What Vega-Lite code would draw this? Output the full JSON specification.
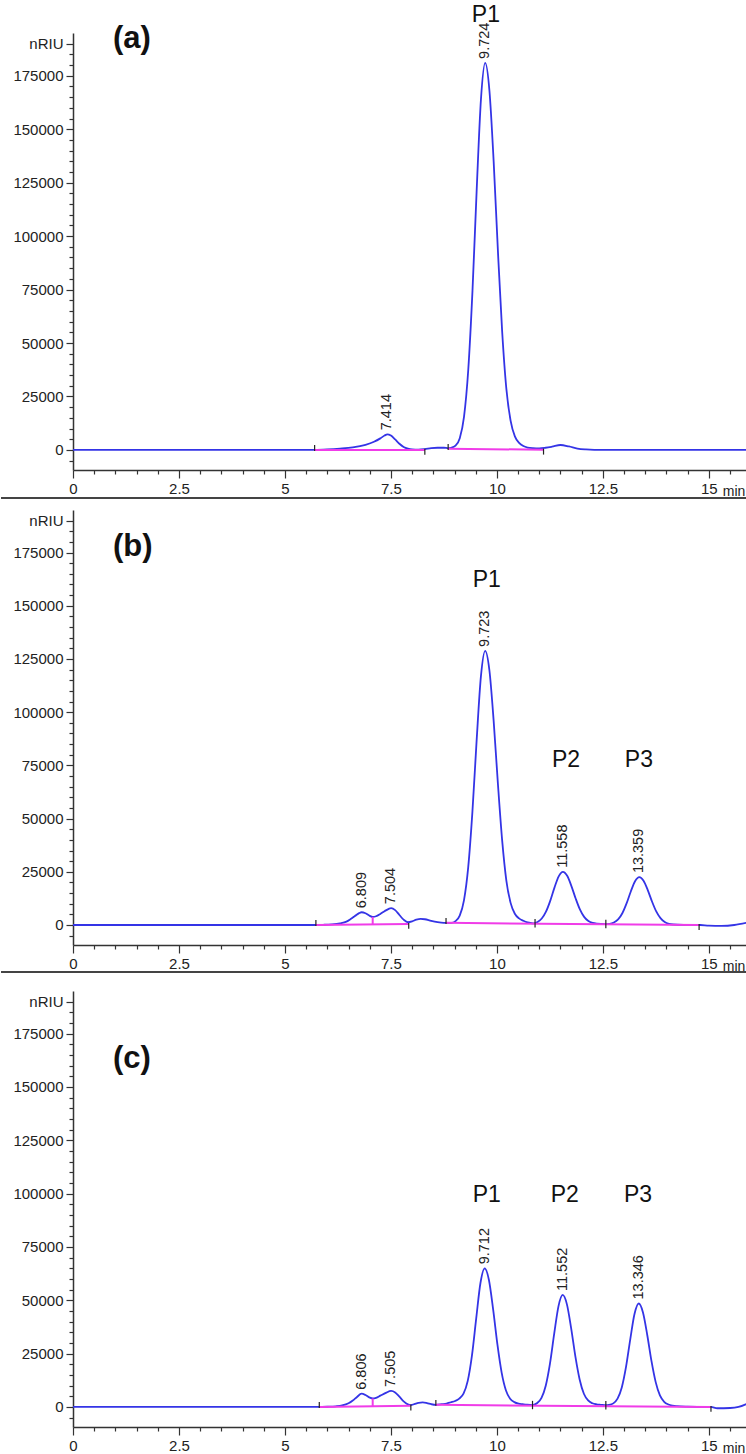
{
  "$schema": "https://vega.github.io/schema/vega-lite/v6.json",
  "background": "white",
  "padding": {"left": 0, "right": 0, "top": 4, "bottom": 0},
  "spacing": -3,
  "config": {
    "view": {"stroke": null},
    "axis": {
      "grid": false,
      "domainColor": "#333333",
      "domainWidth": 1.5,
      "tickColor": "#333333",
      "tickWidth": 1.2,
      "labelColor": "#222222",
      "labelFont": "Liberation Sans",
      "labelFontSize": 15
    }
  },
  "datasets": {
    "trace": [
      {"panel": "a", "t": 0, "v": 0}, {"panel": "a", "t": 1, "v": 0}, {"panel": "a", "t": 2, "v": 0}, {"panel": "a", "t": 3, "v": 0},
      {"panel": "a", "t": 4, "v": 0}, {"panel": "a", "t": 5, "v": 0}, {"panel": "a", "t": 5.7, "v": 0}, {"panel": "a", "t": 6.0, "v": 200},
      {"panel": "a", "t": 6.3, "v": 600}, {"panel": "a", "t": 6.6, "v": 1200}, {"panel": "a", "t": 6.9, "v": 2400}, {"panel": "a", "t": 7.1, "v": 3800},
      {"panel": "a", "t": 7.25, "v": 5400}, {"panel": "a", "t": 7.35, "v": 6700}, {"panel": "a", "t": 7.414, "v": 7300}, {"panel": "a", "t": 7.5, "v": 6700},
      {"panel": "a", "t": 7.6, "v": 4900}, {"panel": "a", "t": 7.7, "v": 2900}, {"panel": "a", "t": 7.8, "v": 1400}, {"panel": "a", "t": 7.9, "v": 600},
      {"panel": "a", "t": 8.0, "v": 250}, {"panel": "a", "t": 8.15, "v": 150}, {"panel": "a", "t": 8.3, "v": 400}, {"panel": "a", "t": 8.45, "v": 850},
      {"panel": "a", "t": 8.6, "v": 1000}, {"panel": "a", "t": 8.75, "v": 1000}, {"panel": "a", "t": 8.85, "v": 800}, {"panel": "a", "t": 8.924, "v": 1000},
      {"panel": "a", "t": 9.024, "v": 2000}, {"panel": "a", "t": 9.124, "v": 5500}, {"panel": "a", "t": 9.224, "v": 15500}, {"panel": "a", "t": 9.324, "v": 37400},
      {"panel": "a", "t": 9.424, "v": 74400}, {"panel": "a", "t": 9.524, "v": 122000}, {"panel": "a", "t": 9.624, "v": 164000}, {"panel": "a", "t": 9.724, "v": 181000},
      {"panel": "a", "t": 9.824, "v": 168000}, {"panel": "a", "t": 9.924, "v": 134700}, {"panel": "a", "t": 10.024, "v": 93000}, {"panel": "a", "t": 10.124, "v": 55400},
      {"panel": "a", "t": 10.224, "v": 28400}, {"panel": "a", "t": 10.324, "v": 13600}, {"panel": "a", "t": 10.424, "v": 6300}, {"panel": "a", "t": 10.524, "v": 3300},
      {"panel": "a", "t": 10.624, "v": 1800}, {"panel": "a", "t": 10.724, "v": 1100}, {"panel": "a", "t": 10.85, "v": 800}, {"panel": "a", "t": 11.0, "v": 700},
      {"panel": "a", "t": 11.15, "v": 1000}, {"panel": "a", "t": 11.3, "v": 1500}, {"panel": "a", "t": 11.5, "v": 2300}, {"panel": "a", "t": 11.7, "v": 1600},
      {"panel": "a", "t": 11.9, "v": 600}, {"panel": "a", "t": 12.1, "v": 200}, {"panel": "a", "t": 12.3, "v": 50}, {"panel": "a", "t": 13, "v": 0},
      {"panel": "a", "t": 14, "v": 0}, {"panel": "a", "t": 15, "v": 0}, {"panel": "a", "t": 15.9, "v": 0},

      {"panel": "b", "t": 0, "v": 0}, {"panel": "b", "t": 1, "v": 0}, {"panel": "b", "t": 2, "v": 0}, {"panel": "b", "t": 3, "v": 0},
      {"panel": "b", "t": 4, "v": 0}, {"panel": "b", "t": 5, "v": 0}, {"panel": "b", "t": 5.7, "v": 0}, {"panel": "b", "t": 5.9, "v": 100},
      {"panel": "b", "t": 6.1, "v": 300}, {"panel": "b", "t": 6.3, "v": 800}, {"panel": "b", "t": 6.45, "v": 1600}, {"panel": "b", "t": 6.55, "v": 2800},
      {"panel": "b", "t": 6.65, "v": 4200}, {"panel": "b", "t": 6.75, "v": 5600}, {"panel": "b", "t": 6.809, "v": 6000}, {"panel": "b", "t": 6.9, "v": 5500},
      {"panel": "b", "t": 7.0, "v": 4300}, {"panel": "b", "t": 7.07, "v": 3800}, {"panel": "b", "t": 7.15, "v": 4100}, {"panel": "b", "t": 7.25, "v": 5200},
      {"panel": "b", "t": 7.35, "v": 6500}, {"panel": "b", "t": 7.45, "v": 7600}, {"panel": "b", "t": 7.504, "v": 7900}, {"panel": "b", "t": 7.6, "v": 7000},
      {"panel": "b", "t": 7.7, "v": 4700}, {"panel": "b", "t": 7.8, "v": 2500}, {"panel": "b", "t": 7.9, "v": 1300}, {"panel": "b", "t": 8.0, "v": 1700},
      {"panel": "b", "t": 8.1, "v": 2500}, {"panel": "b", "t": 8.2, "v": 2900}, {"panel": "b", "t": 8.3, "v": 2700}, {"panel": "b", "t": 8.45, "v": 1900},
      {"panel": "b", "t": 8.6, "v": 1300}, {"panel": "b", "t": 8.75, "v": 1000}, {"panel": "b", "t": 8.923, "v": 1000}, {"panel": "b", "t": 9.023, "v": 1800},
      {"panel": "b", "t": 9.123, "v": 4400}, {"panel": "b", "t": 9.223, "v": 11600}, {"panel": "b", "t": 9.323, "v": 27100}, {"panel": "b", "t": 9.423, "v": 53400},
      {"panel": "b", "t": 9.523, "v": 87100}, {"panel": "b", "t": 9.623, "v": 116800}, {"panel": "b", "t": 9.723, "v": 128800}, {"panel": "b", "t": 9.823, "v": 119700},
      {"panel": "b", "t": 9.923, "v": 96000}, {"panel": "b", "t": 10.023, "v": 66600}, {"panel": "b", "t": 10.123, "v": 40000}, {"panel": "b", "t": 10.223, "v": 20900},
      {"panel": "b", "t": 10.323, "v": 10400}, {"panel": "b", "t": 10.423, "v": 5300}, {"panel": "b", "t": 10.523, "v": 3100}, {"panel": "b", "t": 10.623, "v": 2000},
      {"panel": "b", "t": 10.723, "v": 1200}, {"panel": "b", "t": 10.858, "v": 800}, {"panel": "b", "t": 10.958, "v": 1440}, {"panel": "b", "t": 11.058, "v": 3050},
      {"panel": "b", "t": 11.158, "v": 6260}, {"panel": "b", "t": 11.258, "v": 11350}, {"panel": "b", "t": 11.358, "v": 17550}, {"panel": "b", "t": 11.458, "v": 22870},
      {"panel": "b", "t": 11.558, "v": 25000}, {"panel": "b", "t": 11.658, "v": 23110}, {"panel": "b", "t": 11.758, "v": 18290}, {"panel": "b", "t": 11.858, "v": 12430},
      {"panel": "b", "t": 11.958, "v": 7310}, {"panel": "b", "t": 12.058, "v": 3810}, {"panel": "b", "t": 12.158, "v": 1870}, {"panel": "b", "t": 12.258, "v": 990},
      {"panel": "b", "t": 12.358, "v": 650}, {"panel": "b", "t": 12.55, "v": 450}, {"panel": "b", "t": 12.659, "v": 560}, {"panel": "b", "t": 12.759, "v": 1150},
      {"panel": "b", "t": 12.859, "v": 2610}, {"panel": "b", "t": 12.959, "v": 5520}, {"panel": "b", "t": 13.059, "v": 10130}, {"panel": "b", "t": 13.159, "v": 15750},
      {"panel": "b", "t": 13.259, "v": 20570}, {"panel": "b", "t": 13.359, "v": 22500}, {"panel": "b", "t": 13.459, "v": 20790}, {"panel": "b", "t": 13.559, "v": 16420},
      {"panel": "b", "t": 13.659, "v": 11060}, {"panel": "b", "t": 13.759, "v": 6370}, {"panel": "b", "t": 13.859, "v": 3200}, {"panel": "b", "t": 13.959, "v": 1390},
      {"panel": "b", "t": 14.059, "v": 540}, {"panel": "b", "t": 14.159, "v": 230}, {"panel": "b", "t": 14.4, "v": 50}, {"panel": "b", "t": 14.8, "v": 0},
      {"panel": "b", "t": 15.0, "v": -300}, {"panel": "b", "t": 15.3, "v": -400}, {"panel": "b", "t": 15.6, "v": 0}, {"panel": "b", "t": 15.9, "v": 1100},

      {"panel": "c", "t": 0, "v": 0}, {"panel": "c", "t": 1, "v": 0}, {"panel": "c", "t": 2, "v": 0}, {"panel": "c", "t": 3, "v": 0},
      {"panel": "c", "t": 4, "v": 0}, {"panel": "c", "t": 5, "v": 0}, {"panel": "c", "t": 5.8, "v": 0}, {"panel": "c", "t": 6.0, "v": 100},
      {"panel": "c", "t": 6.2, "v": 300}, {"panel": "c", "t": 6.35, "v": 700}, {"panel": "c", "t": 6.5, "v": 1700}, {"panel": "c", "t": 6.6, "v": 3000},
      {"panel": "c", "t": 6.7, "v": 4700}, {"panel": "c", "t": 6.806, "v": 6200}, {"panel": "c", "t": 6.9, "v": 5600}, {"panel": "c", "t": 7.0, "v": 4400},
      {"panel": "c", "t": 7.07, "v": 4000}, {"panel": "c", "t": 7.15, "v": 4300}, {"panel": "c", "t": 7.25, "v": 5300}, {"panel": "c", "t": 7.38, "v": 6600},
      {"panel": "c", "t": 7.505, "v": 7500}, {"panel": "c", "t": 7.6, "v": 6800}, {"panel": "c", "t": 7.7, "v": 4800}, {"panel": "c", "t": 7.8, "v": 2600},
      {"panel": "c", "t": 7.9, "v": 1200}, {"panel": "c", "t": 7.97, "v": 900}, {"panel": "c", "t": 8.05, "v": 1300}, {"panel": "c", "t": 8.15, "v": 1900},
      {"panel": "c", "t": 8.25, "v": 2100}, {"panel": "c", "t": 8.35, "v": 1800}, {"panel": "c", "t": 8.45, "v": 1300}, {"panel": "c", "t": 8.56, "v": 1000},
      {"panel": "c", "t": 8.7, "v": 1300}, {"panel": "c", "t": 8.812, "v": 1600}, {"panel": "c", "t": 8.912, "v": 2200}, {"panel": "c", "t": 9.012, "v": 2800},
      {"panel": "c", "t": 9.112, "v": 3900}, {"panel": "c", "t": 9.212, "v": 6200}, {"panel": "c", "t": 9.312, "v": 12200}, {"panel": "c", "t": 9.412, "v": 24200},
      {"panel": "c", "t": 9.512, "v": 41500}, {"panel": "c", "t": 9.612, "v": 58100}, {"panel": "c", "t": 9.712, "v": 65000}, {"panel": "c", "t": 9.812, "v": 59500},
      {"panel": "c", "t": 9.912, "v": 45600}, {"panel": "c", "t": 10.012, "v": 29300}, {"panel": "c", "t": 10.112, "v": 16100}, {"panel": "c", "t": 10.212, "v": 7830},
      {"panel": "c", "t": 10.312, "v": 3860}, {"panel": "c", "t": 10.412, "v": 2270}, {"panel": "c", "t": 10.512, "v": 1540}, {"panel": "c", "t": 10.612, "v": 1280},
      {"panel": "c", "t": 10.712, "v": 1050}, {"panel": "c", "t": 10.84, "v": 900}, {"panel": "c", "t": 10.952, "v": 1850}, {"panel": "c", "t": 11.052, "v": 4260},
      {"panel": "c", "t": 11.152, "v": 9950}, {"panel": "c", "t": 11.252, "v": 20340}, {"panel": "c", "t": 11.352, "v": 34350}, {"panel": "c", "t": 11.452, "v": 47170},
      {"panel": "c", "t": 11.552, "v": 52500}, {"panel": "c", "t": 11.652, "v": 48080}, {"panel": "c", "t": 11.752, "v": 36820}, {"panel": "c", "t": 11.852, "v": 23590},
      {"panel": "c", "t": 11.952, "v": 12900}, {"panel": "c", "t": 12.052, "v": 6200}, {"panel": "c", "t": 12.152, "v": 3040}, {"panel": "c", "t": 12.252, "v": 1740},
      {"panel": "c", "t": 12.352, "v": 1220}, {"panel": "c", "t": 12.452, "v": 1010}, {"panel": "c", "t": 12.57, "v": 800}, {"panel": "c", "t": 12.646, "v": 940},
      {"panel": "c", "t": 12.746, "v": 1675}, {"panel": "c", "t": 12.846, "v": 3900}, {"panel": "c", "t": 12.946, "v": 9160}, {"panel": "c", "t": 13.046, "v": 18770},
      {"panel": "c", "t": 13.146, "v": 31720}, {"panel": "c", "t": 13.246, "v": 43580}, {"panel": "c", "t": 13.346, "v": 48500}, {"panel": "c", "t": 13.446, "v": 44320},
      {"panel": "c", "t": 13.546, "v": 33860}, {"panel": "c", "t": 13.646, "v": 21570}, {"panel": "c", "t": 13.746, "v": 11630}, {"panel": "c", "t": 13.846, "v": 5390},
      {"panel": "c", "t": 13.946, "v": 2410}, {"panel": "c", "t": 14.046, "v": 1160}, {"panel": "c", "t": 14.146, "v": 630}, {"panel": "c", "t": 14.246, "v": 390},
      {"panel": "c", "t": 14.5, "v": 150}, {"panel": "c", "t": 14.8, "v": 50}, {"panel": "c", "t": 15.05, "v": 0}, {"panel": "c", "t": 15.2, "v": -600},
      {"panel": "c", "t": 15.5, "v": -500}, {"panel": "c", "t": 15.7, "v": 0}, {"panel": "c", "t": 15.9, "v": 1500}
    ],
    "integ": [
      {"panel": "a", "t": 5.7, "v": 0, "t2": 8.3, "v2": 0},
      {"panel": "a", "t": 8.85, "v": 500, "t2": 11.1, "v2": 100},
      {"panel": "b", "t": 5.73, "v": 0, "t2": 7.92, "v2": 500},
      {"panel": "b", "t": 7.07, "v": 250, "t2": 7.07, "v2": 3800},
      {"panel": "b", "t": 8.8, "v": 1000, "t2": 14.77, "v2": 0},
      {"panel": "c", "t": 5.81, "v": 0, "t2": 7.97, "v2": 600},
      {"panel": "c", "t": 7.07, "v": 200, "t2": 7.07, "v2": 4000},
      {"panel": "c", "t": 8.56, "v": 1000, "t2": 15.05, "v2": 0}
    ],
    "events": [
      {"panel": "a", "t": 5.7, "v": 0, "kind": "start"},
      {"panel": "a", "t": 8.3, "v": 0, "kind": "end"},
      {"panel": "a", "t": 8.85, "v": 500, "kind": "start"},
      {"panel": "a", "t": 11.1, "v": 100, "kind": "end"},
      {"panel": "b", "t": 5.73, "v": 0, "kind": "start"},
      {"panel": "b", "t": 7.92, "v": 500, "kind": "end"},
      {"panel": "b", "t": 8.8, "v": 1000, "kind": "start"},
      {"panel": "b", "t": 10.9, "v": 800, "kind": "split"},
      {"panel": "b", "t": 12.57, "v": 450, "kind": "split"},
      {"panel": "b", "t": 14.77, "v": 0, "kind": "end"},
      {"panel": "c", "t": 5.81, "v": 0, "kind": "start"},
      {"panel": "c", "t": 7.97, "v": 600, "kind": "end"},
      {"panel": "c", "t": 8.56, "v": 1000, "kind": "start"},
      {"panel": "c", "t": 10.84, "v": 900, "kind": "split"},
      {"panel": "c", "t": 12.57, "v": 800, "kind": "split"},
      {"panel": "c", "t": 15.05, "v": 0, "kind": "end"}
    ],
    "peaks": [
      {"panel": "a", "t": 7.414, "v": 7300, "label": "7.414"},
      {"panel": "a", "t": 9.724, "v": 181000, "label": "9.724"},
      {"panel": "b", "t": 6.809, "v": 6000, "label": "6.809"},
      {"panel": "b", "t": 7.504, "v": 7900, "label": "7.504"},
      {"panel": "b", "t": 9.723, "v": 128800, "label": "9.723"},
      {"panel": "b", "t": 11.558, "v": 25000, "label": "11.558"},
      {"panel": "b", "t": 13.359, "v": 22500, "label": "13.359"},
      {"panel": "c", "t": 6.806, "v": 6200, "label": "6.806"},
      {"panel": "c", "t": 7.505, "v": 7500, "label": "7.505"},
      {"panel": "c", "t": 9.712, "v": 65000, "label": "9.712"},
      {"panel": "c", "t": 11.552, "v": 52500, "label": "11.552"},
      {"panel": "c", "t": 13.346, "v": 48500, "label": "13.346"}
    ],
    "notes": [
      {"panel": "a", "kind": "tag", "t": 1.39, "v": 192200, "label": "(a)"},
      {"panel": "a", "kind": "peak", "t": 9.74, "v": 203400, "label": "P1"},
      {"panel": "a", "kind": "unit", "t": 15.33, "v": -9400, "label": "min"},
      {"panel": "b", "kind": "tag", "t": 1.41, "v": 177700, "label": "(b)"},
      {"panel": "b", "kind": "peak", "t": 9.76, "v": 162100, "label": "P1"},
      {"panel": "b", "kind": "peak", "t": 11.63, "v": 77500, "label": "P2"},
      {"panel": "b", "kind": "peak", "t": 13.35, "v": 77500, "label": "P3"},
      {"panel": "b", "kind": "unit", "t": 15.33, "v": -9400, "label": "min"},
      {"panel": "c", "kind": "tag", "t": 1.39, "v": 163100, "label": "(c)"},
      {"panel": "c", "kind": "peak", "t": 9.76, "v": 99400, "label": "P1"},
      {"panel": "c", "kind": "peak", "t": 11.60, "v": 99400, "label": "P2"},
      {"panel": "c", "kind": "peak", "t": 13.33, "v": 99400, "label": "P3"},
      {"panel": "c", "kind": "unit", "t": 15.33, "v": -9400, "label": "min"}
    ],
    "frames": [
      {"panel": "b", "t": -1.698, "t2": 15.9, "v": 200640},
      {"panel": "c", "t": -1.698, "t2": 15.9, "v": 203900}
    ]
  },
  "vconcat": [
    {
      "width": 674,
      "height": 437,
      "encoding": {
        "x": {"field": "t", "type": "quantitative", "scale": {"domain": [0, 15.9], "nice": false, "zero": false},
          "axis": {"values": [0,0.5,1,1.5,2,2.5,3,3.5,4,4.5,5,5.5,6,6.5,7,7.5,8,8.5,9,9.5,10,10.5,11,11.5,12,12.5,13,13.5,14,14.5,15,15.5],
            "labelExpr": "datum.value % 2.5 == 0 ? '' + datum.value : ''",
            "tickSize": {"condition": {"test": "datum.value % 2.5 == 0", "value": 8}, "value": 4},
            "labelPadding": 3, "labelOverlap": false, "labelFlush": false, "title": null}},
        "y": {"field": "v", "type": "quantitative", "scale": {"domain": [-9400, 195000], "nice": false, "zero": false},
          "axis": {"values": [-5000,0,5000,10000,15000,20000,25000,30000,35000,40000,45000,50000,55000,60000,65000,70000,75000,80000,85000,90000,95000,100000,105000,110000,115000,120000,125000,130000,135000,140000,145000,150000,155000,160000,165000,170000,175000,180000,185000,190000],
            "labelExpr": "datum.value == 190000 ? 'nRIU' : (datum.value >= 0 && datum.value % 25000 == 0 ? '' + datum.value : '')",
            "tickSize": {"condition": {"test": "datum.value % 25000 == 0 || datum.value == 190000", "value": 7}, "value": 4},
            "labelPadding": 3, "labelOverlap": false, "labelFlush": false, "title": null}}
      },
      "layer": [
        {"data": {"name": "trace"}, "transform": [{"filter": "datum.panel == 'a'"}],
          "mark": {"type": "line", "color": "#3434e6", "strokeWidth": 1.8, "interpolate": "monotone", "clip": true}},
        {"data": {"name": "integ"}, "transform": [{"filter": "datum.panel == 'a'"}],
          "mark": {"type": "rule", "color": "#f03ce8", "strokeWidth": 2},
          "encoding": {"x2": {"field": "t2"}, "y2": {"field": "v2"}}},
        {"data": {"name": "events"}, "transform": [{"filter": "datum.panel == 'a'"}],
          "mark": {"type": "point", "filled": false, "stroke": "#222222", "strokeWidth": 1.2, "size": 49, "opacity": 1},
          "encoding": {"shape": {"field": "kind", "type": "nominal", "scale": {"domain": ["start", "end", "split"], "range": ["M0,-1.4V0.3", "M0,-0.3V1.4", "M0,-1.2V1.2"]}, "legend": null}}},
        {"data": {"name": "peaks"}, "transform": [{"filter": "datum.panel == 'a'"}],
          "mark": {"type": "text", "angle": 270, "align": "left", "baseline": "middle", "dx": 4, "font": "Liberation Sans", "fontSize": 14.5, "color": "#222222"},
          "encoding": {"text": {"field": "label"}}},
        {"data": {"name": "notes"}, "transform": [{"filter": "datum.panel == 'a' && datum.kind == 'tag'"}],
          "mark": {"type": "text", "align": "center", "baseline": "middle", "font": "Liberation Sans", "fontWeight": "bold", "fontSize": 31, "color": "#111111"},
          "encoding": {"text": {"field": "label"}}},
        {"data": {"name": "notes"}, "transform": [{"filter": "datum.panel == 'a' && datum.kind == 'peak'"}],
          "mark": {"type": "text", "align": "center", "baseline": "middle", "font": "Liberation Sans", "fontSize": 23, "color": "#111111"},
          "encoding": {"text": {"field": "label"}}},
        {"data": {"name": "notes"}, "transform": [{"filter": "datum.panel == 'a' && datum.kind == 'unit'"}],
          "mark": {"type": "text", "align": "left", "baseline": "alphabetic", "dy": 26, "font": "Liberation Sans", "fontSize": 14, "color": "#222222"},
          "encoding": {"text": {"field": "label"}}}
      ]
    },
    {
      "width": 674,
      "height": 435,
      "encoding": {
        "x": {"field": "t", "type": "quantitative", "scale": {"domain": [0, 15.9], "nice": false, "zero": false},
          "axis": {"values": [0,0.5,1,1.5,2,2.5,3,3.5,4,4.5,5,5.5,6,6.5,7,7.5,8,8.5,9,9.5,10,10.5,11,11.5,12,12.5,13,13.5,14,14.5,15,15.5],
            "labelExpr": "datum.value % 2.5 == 0 ? '' + datum.value : ''",
            "tickSize": {"condition": {"test": "datum.value % 2.5 == 0", "value": 8}, "value": 4},
            "labelPadding": 3, "labelOverlap": false, "labelFlush": false, "title": null}},
        "y": {"field": "v", "type": "quantitative", "scale": {"domain": [-9400, 195000], "nice": false, "zero": false},
          "axis": {"values": [-5000,0,5000,10000,15000,20000,25000,30000,35000,40000,45000,50000,55000,60000,65000,70000,75000,80000,85000,90000,95000,100000,105000,110000,115000,120000,125000,130000,135000,140000,145000,150000,155000,160000,165000,170000,175000,180000,185000,190000],
            "labelExpr": "datum.value == 190000 ? 'nRIU' : (datum.value >= 0 && datum.value % 25000 == 0 ? '' + datum.value : '')",
            "tickSize": {"condition": {"test": "datum.value % 25000 == 0 || datum.value == 190000", "value": 7}, "value": 4},
            "labelPadding": 3, "labelOverlap": false, "labelFlush": false, "title": null}}
      },
      "layer": [
        {"data": {"name": "frames"}, "transform": [{"filter": "datum.panel == 'b'"}],
          "mark": {"type": "rule", "color": "#444444", "strokeWidth": 2, "clip": false},
          "encoding": {"x2": {"field": "t2"}}},
        {"data": {"name": "trace"}, "transform": [{"filter": "datum.panel == 'b'"}],
          "mark": {"type": "line", "color": "#3434e6", "strokeWidth": 1.8, "interpolate": "monotone", "clip": true}},
        {"data": {"name": "integ"}, "transform": [{"filter": "datum.panel == 'b'"}],
          "mark": {"type": "rule", "color": "#f03ce8", "strokeWidth": 2},
          "encoding": {"x2": {"field": "t2"}, "y2": {"field": "v2"}}},
        {"data": {"name": "events"}, "transform": [{"filter": "datum.panel == 'b'"}],
          "mark": {"type": "point", "filled": false, "stroke": "#222222", "strokeWidth": 1.2, "size": 49, "opacity": 1},
          "encoding": {"shape": {"field": "kind", "type": "nominal", "scale": {"domain": ["start", "end", "split"], "range": ["M0,-1.4V0.3", "M0,-0.3V1.4", "M0,-1.2V1.2"]}, "legend": null}}},
        {"data": {"name": "peaks"}, "transform": [{"filter": "datum.panel == 'b'"}],
          "mark": {"type": "text", "angle": 270, "align": "left", "baseline": "middle", "dx": 4, "font": "Liberation Sans", "fontSize": 14.5, "color": "#222222"},
          "encoding": {"text": {"field": "label"}}},
        {"data": {"name": "notes"}, "transform": [{"filter": "datum.panel == 'b' && datum.kind == 'tag'"}],
          "mark": {"type": "text", "align": "center", "baseline": "middle", "font": "Liberation Sans", "fontWeight": "bold", "fontSize": 31, "color": "#111111"},
          "encoding": {"text": {"field": "label"}}},
        {"data": {"name": "notes"}, "transform": [{"filter": "datum.panel == 'b' && datum.kind == 'peak'"}],
          "mark": {"type": "text", "align": "center", "baseline": "middle", "font": "Liberation Sans", "fontSize": 23, "color": "#111111"},
          "encoding": {"text": {"field": "label"}}},
        {"data": {"name": "notes"}, "transform": [{"filter": "datum.panel == 'b' && datum.kind == 'unit'"}],
          "mark": {"type": "text", "align": "left", "baseline": "alphabetic", "dy": 26, "font": "Liberation Sans", "fontSize": 14, "color": "#222222"},
          "encoding": {"text": {"field": "label"}}}
      ]
    },
    {
      "width": 674,
      "height": 436,
      "encoding": {
        "x": {"field": "t", "type": "quantitative", "scale": {"domain": [0, 15.9], "nice": false, "zero": false},
          "axis": {"values": [0,0.5,1,1.5,2,2.5,3,3.5,4,4.5,5,5.5,6,6.5,7,7.5,8,8.5,9,9.5,10,10.5,11,11.5,12,12.5,13,13.5,14,14.5,15,15.5],
            "labelExpr": "datum.value % 2.5 == 0 ? '' + datum.value : ''",
            "tickSize": {"condition": {"test": "datum.value % 2.5 == 0", "value": 8}, "value": 4},
            "labelPadding": 3, "labelOverlap": false, "labelFlush": false, "title": null}},
        "y": {"field": "v", "type": "quantitative", "scale": {"domain": [-9400, 195000], "nice": false, "zero": false},
          "axis": {"values": [-5000,0,5000,10000,15000,20000,25000,30000,35000,40000,45000,50000,55000,60000,65000,70000,75000,80000,85000,90000,95000,100000,105000,110000,115000,120000,125000,130000,135000,140000,145000,150000,155000,160000,165000,170000,175000,180000,185000,190000],
            "labelExpr": "datum.value == 190000 ? 'nRIU' : (datum.value >= 0 && datum.value % 25000 == 0 ? '' + datum.value : '')",
            "tickSize": {"condition": {"test": "datum.value % 25000 == 0 || datum.value == 190000", "value": 7}, "value": 4},
            "labelPadding": 3, "labelOverlap": false, "labelFlush": false, "title": null}}
      },
      "layer": [
        {"data": {"name": "frames"}, "transform": [{"filter": "datum.panel == 'c'"}],
          "mark": {"type": "rule", "color": "#444444", "strokeWidth": 2, "clip": false},
          "encoding": {"x2": {"field": "t2"}}},
        {"data": {"name": "trace"}, "transform": [{"filter": "datum.panel == 'c'"}],
          "mark": {"type": "line", "color": "#3434e6", "strokeWidth": 1.8, "interpolate": "monotone", "clip": true}},
        {"data": {"name": "integ"}, "transform": [{"filter": "datum.panel == 'c'"}],
          "mark": {"type": "rule", "color": "#f03ce8", "strokeWidth": 2},
          "encoding": {"x2": {"field": "t2"}, "y2": {"field": "v2"}}},
        {"data": {"name": "events"}, "transform": [{"filter": "datum.panel == 'c'"}],
          "mark": {"type": "point", "filled": false, "stroke": "#222222", "strokeWidth": 1.2, "size": 49, "opacity": 1},
          "encoding": {"shape": {"field": "kind", "type": "nominal", "scale": {"domain": ["start", "end", "split"], "range": ["M0,-1.4V0.3", "M0,-0.3V1.4", "M0,-1.2V1.2"]}, "legend": null}}},
        {"data": {"name": "peaks"}, "transform": [{"filter": "datum.panel == 'c'"}],
          "mark": {"type": "text", "angle": 270, "align": "left", "baseline": "middle", "dx": 4, "font": "Liberation Sans", "fontSize": 14.5, "color": "#222222"},
          "encoding": {"text": {"field": "label"}}},
        {"data": {"name": "notes"}, "transform": [{"filter": "datum.panel == 'c' && datum.kind == 'tag'"}],
          "mark": {"type": "text", "align": "center", "baseline": "middle", "font": "Liberation Sans", "fontWeight": "bold", "fontSize": 31, "color": "#111111"},
          "encoding": {"text": {"field": "label"}}},
        {"data": {"name": "notes"}, "transform": [{"filter": "datum.panel == 'c' && datum.kind == 'peak'"}],
          "mark": {"type": "text", "align": "center", "baseline": "middle", "font": "Liberation Sans", "fontSize": 23, "color": "#111111"},
          "encoding": {"text": {"field": "label"}}},
        {"data": {"name": "notes"}, "transform": [{"filter": "datum.panel == 'c' && datum.kind == 'unit'"}],
          "mark": {"type": "text", "align": "left", "baseline": "alphabetic", "dy": 26, "font": "Liberation Sans", "fontSize": 14, "color": "#222222"},
          "encoding": {"text": {"field": "label"}}}
      ]
    }
  ]
}
